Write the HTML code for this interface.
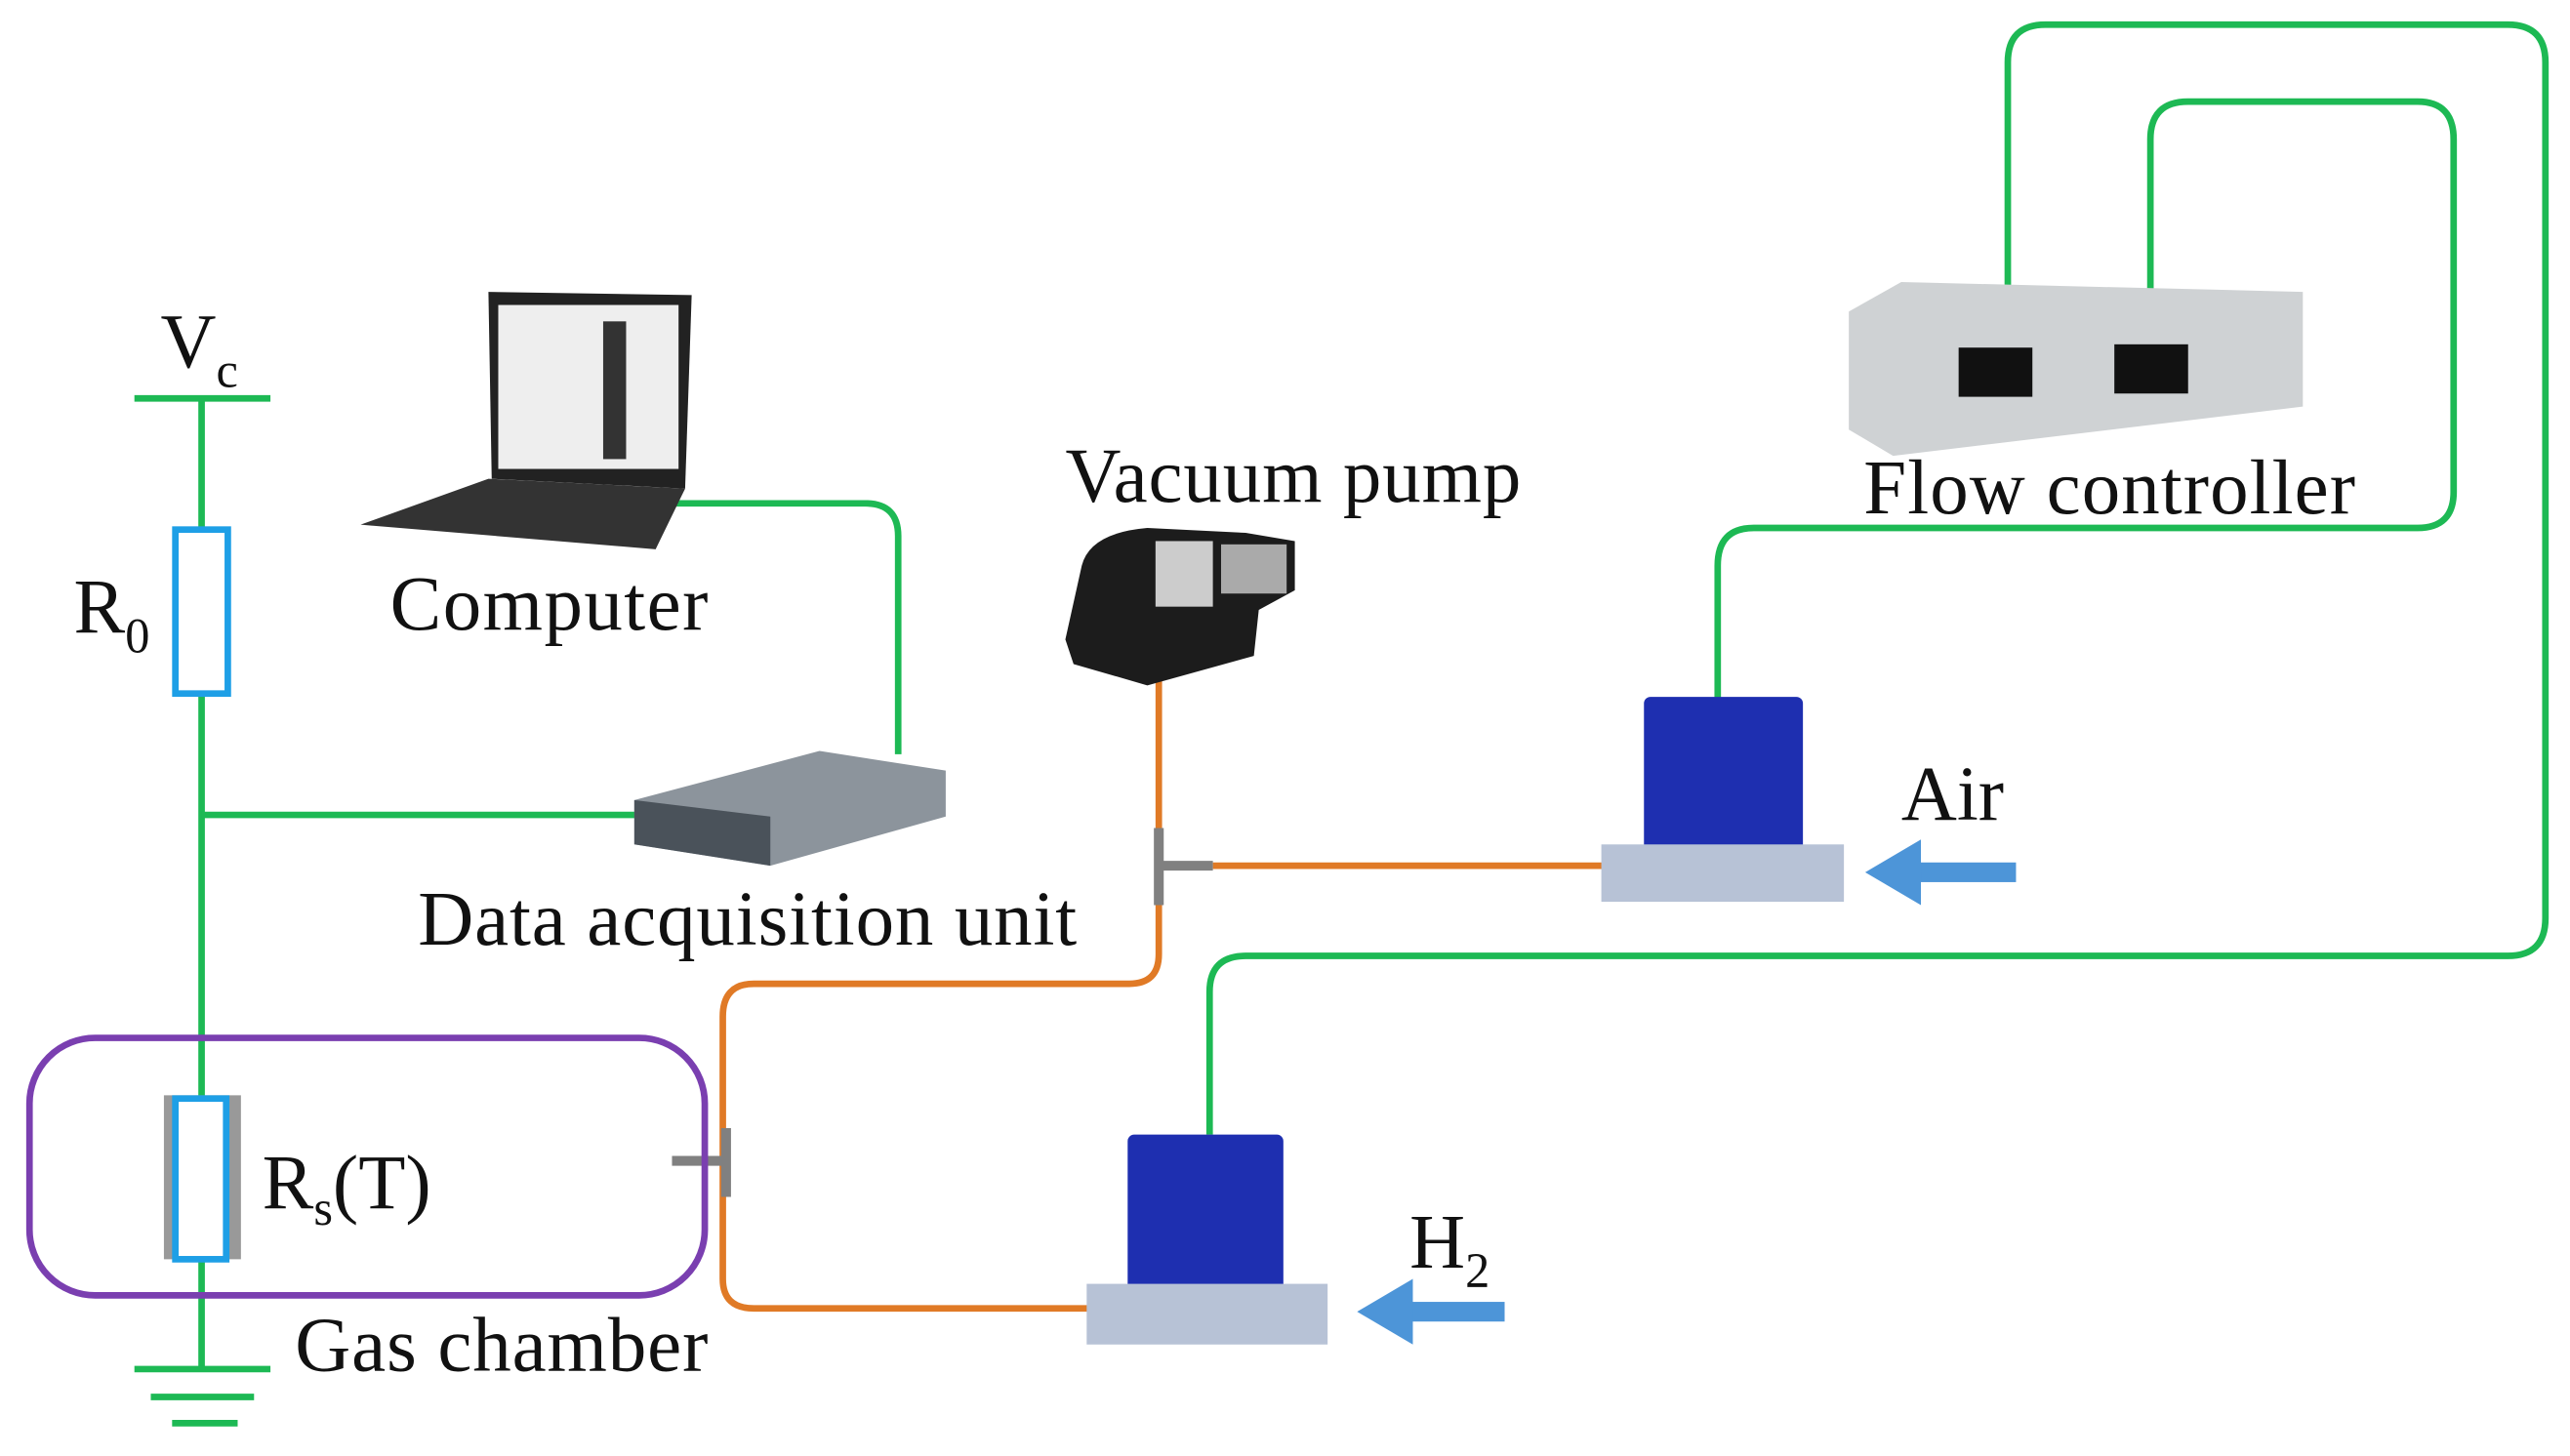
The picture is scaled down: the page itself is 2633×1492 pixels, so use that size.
<!DOCTYPE html>
<html><head><meta charset="utf-8"><style>html,body{margin:0;padding:0;background:#fff}svg{display:block}text{font-family:"Liberation Serif",serif;fill:#111}</style></head><body>
<svg width="2633" height="1492" viewBox="0 0 1568 888" preserveAspectRatio="none">
<rect width="1568" height="888" fill="#fff"/>
<g fill="none" stroke="#1db954" stroke-width="4">
<line x1="82" y1="243" x2="165" y2="243"/>
<line x1="123" y1="243" x2="123" y2="835"/>
<line x1="123" y1="497" x2="388" y2="497"/>
<path d="M400 307 H528 Q548 307 548 327 V460"/>
<line x1="82" y1="835" x2="165" y2="835"/>
<line x1="92" y1="852" x2="155" y2="852"/>
<line x1="105" y1="868" x2="145" y2="868"/>
<path d="M1225 188 V38 Q1225 15 1248 15 H1530 Q1553 15 1553 38 V560 Q1553 583 1530 583 H760 Q738 583 738 605 V692"/>
<path d="M1312 185 V85 Q1312 62 1335 62 H1475 Q1497 62 1497 85 V300 Q1497 322 1475 322 H1070 Q1048 322 1048 345 V428"/>
</g>
<g fill="none" stroke="#e07a26" stroke-width="4">
<path d="M707 415 V582 Q707 600 689 600 H460 Q441 600 441 620 V780 Q441 798 460 798 H668"/>
<line x1="740" y1="528" x2="982" y2="528"/>
</g>
<g stroke="#808080" stroke-width="6" fill="none">
<line x1="707" y1="505" x2="707" y2="552"/>
<line x1="707" y1="528" x2="740" y2="528"/>
<line x1="410" y1="708" x2="442" y2="708"/>
<line x1="443" y1="688" x2="443" y2="730"/>
</g>
<rect x="107" y="323" width="32" height="100" fill="#fff" stroke="#1e9fe6" stroke-width="4"/>
<rect x="18" y="633" width="412" height="157" rx="40" fill="none" stroke="#7a3fb0" stroke-width="4"/>
<rect x="100" y="668" width="47" height="100" fill="#999"/>
<rect x="107" y="670" width="31" height="98" fill="#fff" stroke="#1e9fe6" stroke-width="4"/>
<path d="M298 178 L422 180 L418 298 L300 292 Z" fill="#222"/>
<rect x="304" y="186" width="110" height="100" fill="#eee"/>
<rect x="368" y="196" width="14" height="84" fill="#333"/>
<path d="M298 292 L418 298 L400 335 L220 320 Z" fill="#333"/>
<path d="M387 488 L500 458 L577 470 L577 498 L470 528 L387 515 Z" fill="#8c949c"/>
<path d="M387 488 L470 498 L470 528 L387 515 Z" fill="#4a525a"/>
<path d="M660 345 Q665 325 700 322 L760 325 L790 330 L790 360 L768 372 L765 400 L700 418 L655 405 L650 390 Z" fill="#1c1c1c"/>
<rect x="705" y="330" width="35" height="40" fill="#ccc"/>
<rect x="745" y="332" width="40" height="30" fill="#aaa"/>
<path d="M1128 190 L1160 172 L1405 178 L1405 248 L1155 278 L1128 262 Z" fill="#cfd2d4"/>
<rect x="1195" y="212" width="45" height="30" fill="#111"/>
<rect x="1290" y="210" width="45" height="30" fill="#111"/>
<rect x="1003" y="425" width="97" height="95" rx="4" fill="#1e2fb0"/>
<rect x="977" y="515" width="148" height="35" fill="#b7c2d6"/>
<rect x="688" y="692" width="95" height="98" rx="4" fill="#1e2fb0"/>
<rect x="663" y="783" width="147" height="37" fill="#b7c2d6"/>
<g fill="#4d95d8">
<rect x="1165" y="526" width="65" height="12"/><polygon points="1138,532 1172,512 1172,552"/>
<rect x="855" y="794" width="63" height="12"/><polygon points="828,800 862,780 862,820"/>
</g>
<g font-size="47">
<text x="98" y="224">V<tspan font-size="30" dy="12">c</tspan></text>
<text x="45" y="386">R<tspan font-size="30" dy="12">0</tspan></text>
<text x="238" y="384" textLength="194">Computer</text>
<text x="255" y="576" textLength="402">Data acquisition unit</text>
<text x="650" y="306" textLength="278">Vacuum pump</text>
<text x="1137" y="313" textLength="300">Flow controller</text>
<text x="1160" y="500">Air</text>
<text x="860" y="773">H<tspan font-size="30" dy="12">2</tspan></text>
<text x="160" y="737">R<tspan font-size="30" dy="10">s</tspan><tspan dy="-10">(T)</tspan></text>
<text x="180" y="836" textLength="252">Gas chamber</text>
</g>
</svg>
</body></html>
